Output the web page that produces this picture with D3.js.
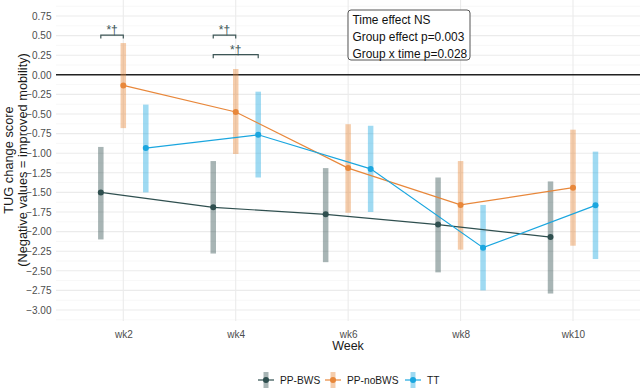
<!DOCTYPE html>
<html><head><meta charset="utf-8">
<script src="https://cdn.jsdelivr.net/npm/d3@7"></script>
<style>body{margin:0;background:#fff}svg{font-family:"Liberation Sans",Arial,sans-serif}</style>
</head><body><svg id="c" width="642" height="389"></svg>
<script>
const weeks = ["wk2","wk4","wk6","wk8","wk10"];
const groups = ["PP-BWS","PP-noBWS","TT"];
const colors = ["#2F4F4F","#E8873A","#1AA6DF"];
const meanBWS   = [-1.50,-1.69,-1.78,-1.91,-2.07];
const lowBWS    = [-2.10,-2.28,-2.39,-2.52,-2.79];
const highBWS   = [-0.92,-1.10,-1.19,-1.31,-1.36];
const meanNo    = [-0.135,-0.475,-1.19,-1.66,-1.44];
const lowNo     = [-0.68,-1.01,-1.76,-2.23,-2.18];
const highNo    = [0.405,0.074,-0.63,-1.10,-0.70];
const meanTT    = [-0.935,-0.765,-1.20,-2.205,-1.665];
const lowTT     = [-1.50,-1.31,-1.75,-2.75,-2.35];
const highTT    = [-0.38,-0.215,-0.65,-1.66,-0.98];
const yTicks = [0.75,0.5,0.25,0,-0.25,-0.5,-0.75,-1,-1.25,-1.5,-1.75,-2,-2.25,-2.5,-2.75,-3];
const annotLines = ["Time effect NS","Group effect p=0.003","Group x time p=0.028"];
const sigBrackets = [
  {week:"wk2", from:0, to:1, y:0.50, label:"*†"},
  {week:"wk4", from:0, to:1, y:0.50, label:"*†"},
  {week:"wk4", from:0, to:2, y:0.25, label:"*†"}
];

const series = [
  {name:groups[0], mean:meanBWS, low:lowBWS, high:highBWS, color:colors[0]},
  {name:groups[1], mean:meanNo, low:lowNo, high:highNo, color:colors[1]},
  {name:groups[2], mean:meanTT, low:lowTT, high:highTT, color:colors[2]}
];

const svg = d3.select("#c");
const L = 56, R = 640, T = 0, B = 321;
const y = d3.scaleLinear().domain([0.75,-3]).range([16,310]);
const x = d3.scalePoint().domain(weeks).range([123.3,573]).padding(0);
const step = x.step();
const dodge = d3.scalePoint().domain(groups).range([-0.2*step,0.2*step]);

const g = svg.append("g");
d3.range(-3.125,0.9,0.25).forEach(v=>{
  g.append("line").attr("x1",L).attr("x2",R).attr("y1",y(v)).attr("y2",y(v)).attr("stroke","#F2F2F2").attr("stroke-width",0.6);
});
yTicks.forEach(v=>{
  g.append("line").attr("x1",L).attr("x2",R).attr("y1",y(v)).attr("y2",y(v)).attr("stroke","#EBEBEB").attr("stroke-width",1.1);
});
weeks.forEach(w=>{
  g.append("line").attr("x1",x(w)).attr("x2",x(w)).attr("y1",T).attr("y2",B).attr("stroke","#EBEBEB").attr("stroke-width",1.1);
});
g.append("line").attr("x1",L).attr("x2",R).attr("y1",y(0)).attr("y2",y(0)).attr("stroke","#222").attr("stroke-width",1.4);

const yAxis = d3.axisLeft(y).tickValues(yTicks).tickFormat(d3.format(".2f")).tickSize(0).tickPadding(4.5);
const ya = svg.append("g").attr("transform",`translate(${L},0)`).call(yAxis);
ya.select(".domain").remove();
ya.selectAll("text").attr("fill","#4D4D4D").attr("font-size",10).attr("font-family","Liberation Sans, Arial, sans-serif");

const xAxis = d3.axisBottom(x).tickSize(0).tickPadding(9.5);
const xa = svg.append("g").attr("transform",`translate(0,${B})`).call(xAxis);
xa.select(".domain").remove();
xa.selectAll("text").attr("fill","#4D4D4D").attr("font-size",10).attr("font-family","Liberation Sans, Arial, sans-serif");

svg.append("text").attr("x",348).attr("y",350).attr("text-anchor","middle").attr("font-size",12.5).attr("fill","#1a1a1a").text("Week");
svg.append("text").attr("transform","translate(13,160) rotate(-90)").attr("text-anchor","middle").attr("font-size",12.8).attr("fill","#1a1a1a").text("TUG change score");
svg.append("text").attr("transform","translate(27,160) rotate(-90)").attr("text-anchor","middle").attr("font-size",12.8).attr("fill","#1a1a1a").text("(Negative values = improved mobility)");

series.forEach(s=>{
  const gs = svg.append("g");
  weeks.forEach((w,i)=>{
    const cx = x(w)+dodge(s.name);
    gs.append("line").attr("x1",cx).attr("x2",cx).attr("y1",y(s.high[i])).attr("y2",y(s.low[i]))
      .attr("stroke",s.color).attr("stroke-width",5.5).attr("stroke-opacity",0.42);
  });
});
series.forEach(s=>{
  const line = d3.line().x((d,i)=>x(weeks[i])+dodge(s.name)).y(d=>y(d));
  svg.append("path").attr("d",line(s.mean)).attr("fill","none").attr("stroke",s.color).attr("stroke-width",1.2);
  s.mean.forEach((m,i)=>{
    svg.append("circle").attr("cx",x(weeks[i])+dodge(s.name)).attr("cy",y(m)).attr("r",3).attr("fill",s.color);
  });
});

sigBrackets.forEach(b=>{
  const x1 = x(b.week)+dodge(groups[b.from]), x2 = x(b.week)+dodge(groups[b.to]);
  const yy = y(b.y)-0.5;
  svg.append("path").attr("d",`M${x1},${yy+3.5}V${yy}H${x2}V${yy+3.5}`).attr("fill","none").attr("stroke","#3d5656").attr("stroke-width",1.2);
  svg.append("text").attr("x",(x1+x2)/2).attr("y",yy-1).attr("text-anchor","middle").attr("font-size",12).attr("fill","#3d5656").text(b.label);
});

const ab = svg.append("g").attr("transform","translate(348,10)");
ab.append("rect").attr("x",0).attr("y",0).attr("width",122).attr("height",50).attr("rx",3).attr("fill","#fff").attr("stroke","#555").attr("stroke-width",1);
annotLines.forEach((t,i)=>{
  ab.append("text").attr("x",4.5).attr("y",13.5+i*17).attr("font-size",11.9).attr("fill","#111").text(t);
});

const legX = [266,333,413];
series.forEach((s,i)=>{
  const lg = svg.append("g").attr("transform",`translate(${legX[i]},380)`);
  lg.append("line").attr("x1",0).attr("x2",0).attr("y1",-8).attr("y2",8).attr("stroke",s.color).attr("stroke-width",5).attr("stroke-opacity",0.42);
  lg.append("line").attr("x1",-8).attr("x2",8).attr("y1",0).attr("y2",0).attr("stroke",s.color).attr("stroke-width",1.2);
  lg.append("circle").attr("r",3).attr("fill",s.color);
  lg.append("text").attr("x",14).attr("y",3.5).attr("font-size",10.2).attr("fill","#1a1a1a").text(s.name);
});
</script></body></html>
